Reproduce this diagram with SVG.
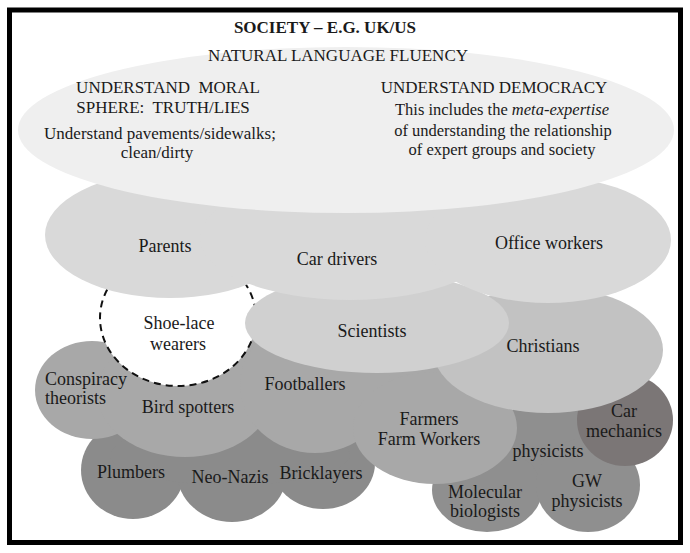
<svg xmlns="http://www.w3.org/2000/svg" width="690" height="553" viewBox="0 0 690 553">
<style>
text{font-family:"Liberation Serif","Times New Roman",serif;fill:#1a1a1a;text-anchor:middle;white-space:pre}
.t{font-size:17px}
.s{font-size:16.5px}
.n{font-size:18px}
.b{font-weight:bold}
.top{fill:#efefef}
.mid{fill:#d9d9d9}
.sci{fill:#d0d0d0}
.chr{fill:#c2c2c2}
.med{fill:#a8a8a8}
.dark{fill:#8b8b8b}
.phy{fill:#8f8f8f}
.mech{fill:#7b7676}
</style>
<rect width="690" height="553" fill="#fff"/>

<g id="dark-cloud">
  <ellipse class="dark" cx="133" cy="470" rx="52" ry="49"/>
  <ellipse class="dark" cx="232" cy="472" rx="55" ry="50"/>
  <ellipse class="dark" cx="323" cy="463" rx="52" ry="46"/>
  <ellipse class="dark" cx="230" cy="455" rx="120" ry="30"/>
  <text class="n" x="131" y="478">Plumbers</text>
  <text class="n" x="230" y="483">Neo-Nazis</text>
  <text class="n" x="321" y="479">Bricklayers</text>
</g>

<g id="physicists-cloud">
  <ellipse class="phy" cx="555" cy="445" rx="70" ry="45"/>
  <ellipse class="phy" cx="487" cy="490" rx="55" ry="42"/>
  <ellipse class="phy" cx="588" cy="485" rx="52" ry="47"/>
  <text class="n" x="548" y="457">physicists</text>
  <text class="n" x="485" y="498">Molecular</text>
  <text class="n" x="485" y="517">biologists</text>
  <text class="n" x="587" y="487">GW</text>
  <text class="n" x="587" y="507">physicists</text>
</g>

<g id="car-mechanics">
  <ellipse class="mech" cx="625" cy="420" rx="48" ry="46"/>
  <text class="n" x="624" y="417">Car</text>
  <text class="n" x="624" y="437">mechanics</text>
</g>

<g id="medium-cloud">
  <ellipse class="med" cx="330" cy="375" rx="180" ry="45"/>
  <ellipse class="med" cx="92" cy="390" rx="57" ry="49"/>
  <ellipse class="med" cx="185" cy="393" rx="88" ry="64"/>
  <ellipse class="med" cx="315" cy="385" rx="75" ry="68"/>
  <ellipse class="med" cx="435" cy="428" rx="82" ry="56"/>
  <text class="n" x="45" y="385" style="text-anchor:start">Conspiracy</text>
  <text class="n" x="45" y="404" style="text-anchor:start">theorists</text>
  <text class="n" x="188" y="413">Bird spotters</text>
  <text class="n" x="305" y="390">Footballers</text>
  <text class="n" x="429" y="425">Farmers</text>
  <text class="n" x="429" y="445">Farm Workers</text>
</g>

<g id="shoe-lace-wearers">
  <ellipse cx="178" cy="318" rx="78" ry="68" fill="#fff" stroke="#111" stroke-width="2" stroke-dasharray="7 5"/>
  <text class="n" x="179" y="329">Shoe-lace</text>
  <text class="n" x="178" y="350">wearers</text>
</g>

<g id="christians">
  <ellipse class="chr" cx="548" cy="350" rx="115" ry="63"/>
  <text class="n" x="543" y="352">Christians</text>
</g>

<g id="scientists">
  <ellipse class="sci" cx="377" cy="323" rx="132" ry="50"/>
  <text class="n" x="372" y="337">Scientists</text>
</g>

<g id="middle-cloud">
  <ellipse class="mid" cx="170" cy="235" rx="125" ry="63"/>
  <ellipse class="mid" cx="350" cy="238" rx="150" ry="62"/>
  <ellipse class="mid" cx="548" cy="240" rx="123" ry="63"/>
  <text class="n" x="165" y="252">Parents</text>
  <text class="n" x="337" y="265">Car drivers</text>
  <text class="n" x="549" y="249">Office workers</text>
</g>

<g id="natural-language-fluency">
  <ellipse class="top" cx="346" cy="130" rx="328" ry="83"/>
  <text class="t" x="338" y="61">NATURAL LANGUAGE FLUENCY</text>
  <text class="t" x="168" y="93">UNDERSTAND  MORAL</text>
  <text class="t" x="163" y="113">SPHERE:  TRUTH/LIES</text>
  <text class="t" x="160" y="139">Understand pavements/sidewalks;</text>
  <text class="t" x="157" y="158">clean/dirty</text>
  <text class="t" x="494" y="93">UNDERSTAND DEMOCRACY</text>
  <text class="s" x="502" y="115">This includes the <tspan font-style="italic">meta-expertise</tspan></text>
  <text class="s" x="503" y="136">of understanding the relationship</text>
  <text class="s" x="502" y="155">of expert groups and society</text>
</g>

<g id="society">
  <rect x="9.5" y="10" width="671" height="532.5" fill="none" stroke="#000" stroke-width="5"/>
  <text class="t b" x="325" y="33">SOCIETY – E.G. UK/US</text>
</g>
</svg>
